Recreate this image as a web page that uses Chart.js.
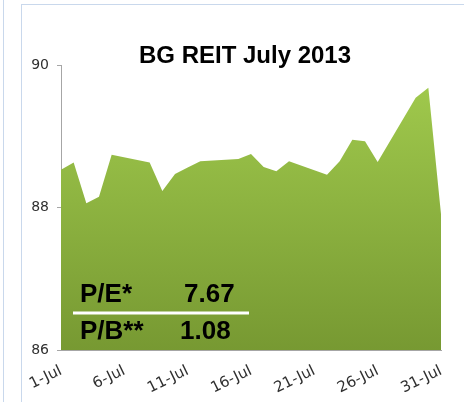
<!DOCTYPE html>
<html>
<head>
<meta charset="utf-8">
<script src="https://cdn.jsdelivr.net/npm/chart.js@4.4.0/dist/chart.umd.min.js"></script>
<style>
  html, body { margin: 0; padding: 0; background: #ffffff; }
  #wrap { position: relative; width: 464px; height: 402px; overflow: hidden; }
  #frameLeft { position: absolute; left: 3px; top: 0; width: 1px; height: 402px; background: #c9d8ec; }
  #frame { position: absolute; left: 21px; top: 4px; width: 460px; height: 420px; border: 1px solid #c9d8ec; }
  canvas { position: absolute; left: 0; top: 0; }
</style>
</head>
<body>
<div id="wrap">
  <div id="frameLeft"></div>
  <div id="frame"></div>
  <canvas id="reitChart" width="464" height="402"></canvas>
</div>
<script>
// July 2013 days (weekends have no price)
const days = [];
for (let d = 1; d <= 31; d++) days.push(d + '-Jul');

const prices = [
  88.53, 88.63, 88.06, 88.15, 88.74, null, null,
  88.63, 88.23, 88.47, 88.56, 88.65, null, null,
  88.68, 88.75, 88.57, 88.51, 88.65, null, null,
  88.46, 88.65, 88.95, 88.93, 88.64, null, null,
  89.54, 89.68, 87.91
];

const yTicks = [86, 88, 90];
const ratioLabels = ['P/E*', 'P/B**'];
const ratioValues = ['7.67', '1.08'];

// Title and ratio box drawn on top of the chart
const overlayPlugin = {
  id: 'overlay',
  afterDraw(chart) {
    const ctx = chart.ctx;
    ctx.save();
    ctx.fillStyle = '#000000';
    ctx.textBaseline = 'alphabetic';
    ctx.font = 'bold 24px "Liberation Sans", Arial, sans-serif';
    ctx.textAlign = 'center';
    ctx.fillText('BG REIT July 2013', 245, 63);

    ctx.font = 'bold 26px "Liberation Sans", Arial, sans-serif';
    ctx.textAlign = 'left';
    ctx.fillText(ratioLabels[0], 80, 302);
    ctx.fillText(ratioValues[0], 184, 302);
    ctx.fillText(ratioLabels[1], 80, 339);
    ctx.fillText(ratioValues[1], 180, 339);

    ctx.strokeStyle = '#ffffff';
    ctx.lineWidth = 3;
    ctx.beginPath();
    ctx.moveTo(73, 313);
    ctx.lineTo(249, 313);
    ctx.stroke();
    ctx.restore();
  }
};

// soft shadow under the area like the original
const shadowPlugin = {
  id: 'areaShadow',
  beforeDatasetDraw(chart) {
    const ctx = chart.ctx;
    ctx.save();
    ctx.shadowColor = 'rgba(0,0,0,0.25)';
    ctx.shadowBlur = 3;
    ctx.shadowOffsetX = 2;
    ctx.shadowOffsetY = 2;
  },
  afterDatasetDraw(chart) {
    chart.ctx.restore();
  }
};

new Chart(document.getElementById('reitChart').getContext('2d'), {
  type: 'line',
  data: {
    labels: days,
    datasets: [{
      data: prices,
      spanGaps: true,
      fill: 'start',
      tension: 0,
      borderWidth: 0,
      pointRadius: 0,
      backgroundColor: (context) => {
        const area = context.chart.chartArea;
        if (!area) return '#8fb441';
        const g = context.chart.ctx.createLinearGradient(0, 88, 0, area.bottom);
        g.addColorStop(0, '#9fc84c');
        g.addColorStop(1, '#779932');
        return g;
      }
    }]
  },
  options: {
    responsive: false,
    animation: false,
    layout: { padding: { top: 65, right: 23, left: 0, bottom: 0 } },
    plugins: {
      legend: { display: false },
      title: { display: false },
      tooltip: { enabled: false }
    },
    scales: {
      x: {
        offset: false,
        grid: { display: false, drawTicks: false },
        border: { display: true, color: '#a6a6a6', width: 1 },
        ticks: {
          autoSkip: false,
          minRotation: 26,
          maxRotation: 26,
          padding: 12,
          color: '#303030',
          font: { family: '"DejaVu Sans", sans-serif', size: 15 },
          callback: (v, i) => (i % 5 === 0 ? days[i] : null)
        },
        afterFit: (scale) => { scale.height = 52; }
      },
      y: {
        min: yTicks[0],
        max: yTicks[yTicks.length - 1],
        afterBuildTicks: (scale) => { scale.ticks = yTicks.map(v => ({ value: v })); },
        grid: { display: true, drawOnChartArea: false, drawTicks: true, tickLength: 4, color: '#a6a6a6' },
        border: { display: true, color: '#a6a6a6', width: 1 },
        ticks: {
          padding: 8,
          color: '#303030',
          font: { family: '"DejaVu Sans", sans-serif', size: 14 }
        },
        afterFit: (scale) => { scale.width = 61; }
      }
    }
  },
  plugins: [shadowPlugin, overlayPlugin]
});
</script>
</body>
</html>
